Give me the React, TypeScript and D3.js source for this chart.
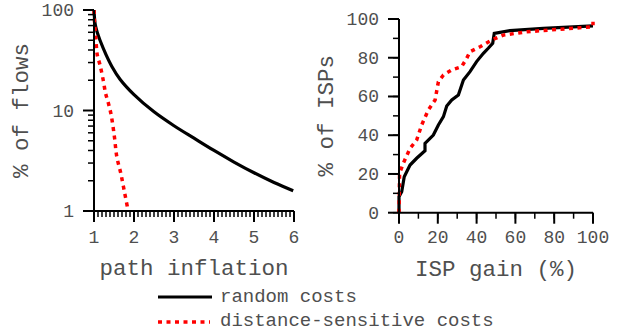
import React from "react";
import * as d3 from "d3";

// left panel: CCDF of path inflation (log y)
const inflationRandom: [number, number][] = [
  [1, 100], [1.03, 72], [1.08, 60], [1.15, 50], [1.3, 36], [1.45, 27.3],
  [1.65, 20.5], [2.0, 14.4], [2.5, 9.7], [3.0, 7.05], [3.5, 5.3],
  [4.0, 4.0], [4.5, 3.07], [5.0, 2.4], [5.5, 1.92], [5.98, 1.59],
];
const inflationDistance: [number, number][] = [
  [1, 100], [1.01, 79.5], [1.05, 50], [1.08, 36], [1.15, 28.4], [1.23, 20.1],
  [1.29, 14.8], [1.36, 11.8], [1.43, 9.0], [1.51, 5.49], [1.57, 3.47],
  [1.67, 2.37], [1.76, 1.56], [1.85, 1.02],
];

// right panel: CDF of ISP gain
const gainRandom: [number, number][] = [
  [0, 0], [0, 8.3], [1.4, 10.8], [2.7, 18.6], [5.7, 24.6], [9.1, 28.1],
  [13.4, 32], [13.4, 35.8], [17.7, 40.1], [20.3, 45.3], [22.9, 49.6],
  [24.6, 55.1], [27.2, 58.2], [30.6, 60.8], [33.2, 68.5], [36.6, 72.8],
  [40, 78], [43.5, 82.3], [46, 84.9], [48.3, 87.5], [49.1, 92.6],
  [57.2, 94], [74.4, 95.2], [100, 96.4],
];
const gainDistance: [number, number][] = [
  [0, 0], [0.3, 20.3], [2.2, 25.5], [5.7, 33.2], [9.1, 37.5], [11.7, 45.3],
  [15.1, 53], [18.6, 58.2], [20.3, 67.6], [22.9, 71.1], [27.2, 73.7],
  [32.3, 75.4], [34.9, 79.7], [36.6, 83.1], [41.8, 85.7], [47.8, 89.2],
  [53.8, 91.7], [65.8, 93.4], [83, 94.7], [100, 96], [100, 98.6],
];

const leftXTicks = [1, 2, 3, 4, 5, 6];
const leftYTicks = [1, 10, 100];
const rightTicks = [0, 20, 40, 60, 80, 100];
const legendLabels = ["random costs", "distance-sensitive costs"];

const FONT = "Liberation Mono, Courier New, monospace";
const GRAY = "#4f4f4f";

const App = () => {
  const x1 = d3.scaleLinear().domain([1, 6]).range([94, 294]);
  const y1 = d3.scaleLog().domain([1, 100]).range([211, 10]);
  const x2 = d3.scaleLinear().domain([0, 100]).range([399, 593]);
  const y2 = d3.scaleLinear().domain([0, 100]).range([212.7, 19]);

  const line1 = d3.line<[number, number]>().x((d) => x1(d[0])).y((d) => y1(d[1]))
    .curve(d3.curveCatmullRom);
  const line2 = d3.line<[number, number]>().x((d) => x2(d[0])).y((d) => y2(d[1]));

  const minorX1 = d3.range(1, 6.001, 0.1).map((v) => +v.toFixed(1));
  const minorY1 = [1, 10].flatMap((dec) => d3.range(2, 10).map((m) => m * dec));
  const minor2 = d3.range(0, 101, 10);

  const dash = { stroke: "#ff0000", strokeWidth: 3.5, strokeDasharray: "4 4.5", fill: "none" };
  const solid = { stroke: "#000", strokeWidth: 3.2, fill: "none" };

  return (
    <svg width={623} height={331} style={{ position: "absolute", left: 0, top: 0, background: "#fff" }}
      fontFamily={FONT}>
      {/* left panel */}
      <g>
        <path d={line1(inflationRandom) || ""} {...solid} />
        <path d={line1(inflationDistance) || ""} {...dash} />
        <line x1={x1(1)} x2={x1(1)} y1={y1(1)} y2={y1(100)} stroke="#000" strokeWidth={2} />
        <line x1={x1(1)} x2={x1(6)} y1={y1(1)} y2={y1(1)} stroke="#000" strokeWidth={2} />
        {minorX1.map((v) => (
          <line key={"mx" + v} x1={x1(v)} x2={x1(v)} y1={y1(1)} y2={y1(1) + 6} stroke="#000" strokeWidth={1.5} />
        ))}
        {leftXTicks.map((v) => (
          <g key={"x" + v}>
            <line x1={x1(v)} x2={x1(v)} y1={y1(1)} y2={y1(1) + 11} stroke="#000" strokeWidth={2} />
            <text x={x1(v)} y={243} textAnchor="middle" fontSize={18} fill={GRAY}>{v}</text>
          </g>
        ))}
        {minorY1.map((v) => (
          <line key={"my" + v} x1={x1(1) - 6} x2={x1(1)} y1={y1(v)} y2={y1(v)} stroke="#000" strokeWidth={1.5} />
        ))}
        {leftYTicks.map((v) => (
          <g key={"y" + v}>
            <line x1={x1(1) - 11} x2={x1(1)} y1={y1(v)} y2={y1(v)} stroke="#000" strokeWidth={2} />
            <text x={74} y={y1(v) + 6} textAnchor="end" fontSize={18} fill={GRAY}>{v}</text>
          </g>
        ))}
        <text x={194} y={275} textAnchor="middle" fontSize={22.5} fill={GRAY}>path inflation</text>
        <text transform={`translate(28,${(y1(1) + y1(100)) / 2}) rotate(-90)`} textAnchor="middle"
          fontSize={22.5} fill={GRAY}>% of flows</text>
      </g>

      {/* right panel */}
      <g>
        <path d={line2(gainRandom) || ""} {...solid} />
        <path d={line2(gainDistance) || ""} {...dash} />
        <line x1={x2(0)} x2={x2(0)} y1={y2(0)} y2={y2(100)} stroke="#000" strokeWidth={2} />
        <line x1={x2(0)} x2={x2(100)} y1={y2(0)} y2={y2(0)} stroke="#000" strokeWidth={2} />
        {minor2.map((v) => (
          <g key={"m2" + v}>
            <line x1={x2(v)} x2={x2(v)} y1={y2(0)} y2={y2(0) + 6} stroke="#000" strokeWidth={1.5} />
            <line x1={x2(0) - 6} x2={x2(0)} y1={y2(v)} y2={y2(v)} stroke="#000" strokeWidth={1.5} />
          </g>
        ))}
        {rightTicks.map((v) => (
          <g key={"t2" + v}>
            <line x1={x2(v)} x2={x2(v)} y1={y2(0)} y2={y2(0) + 11} stroke="#000" strokeWidth={2} />
            <text x={x2(v)} y={243} textAnchor="middle" fontSize={18} fill={GRAY}>{v}</text>
            <line x1={x2(0) - 11} x2={x2(0)} y1={y2(v)} y2={y2(v)} stroke="#000" strokeWidth={2} />
            <text x={379} y={y2(v) + 6} textAnchor="end" fontSize={18} fill={GRAY}>{v}</text>
          </g>
        ))}
        <text x={(x2(0) + x2(100)) / 2} y={276} textAnchor="middle" fontSize={22.5} fill={GRAY}>ISP gain (%)</text>
        <text transform={`translate(333,${(y2(0) + y2(100)) / 2}) rotate(-90)`} textAnchor="middle"
          fontSize={22.5} fill={GRAY}>% of ISPs</text>
      </g>

      {/* legend */}
      <g>
        <line x1={158} x2={212} y1={297} y2={297} {...solid} />
        <text x={220} y={301.5} fontSize={19} fill={GRAY}>{legendLabels[0]}</text>
        <line x1={158} x2={210} y1={322} y2={322} {...dash} />
        <text x={220} y={325.5} fontSize={19} fill={GRAY}>{legendLabels[1]}</text>
      </g>
    </svg>
  );
};

export default App;
